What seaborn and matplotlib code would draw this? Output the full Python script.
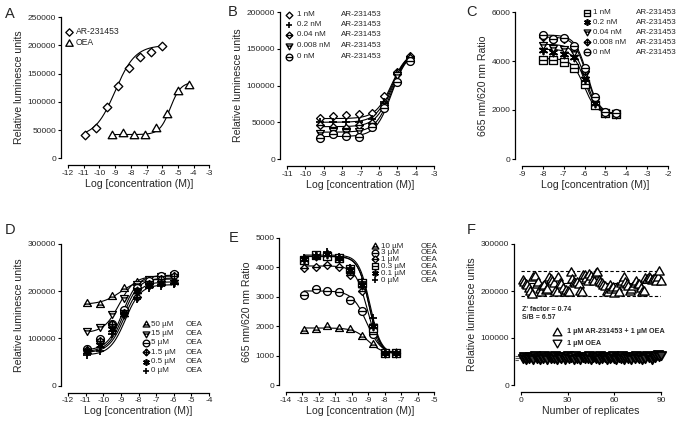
import numpy as np
import matplotlib
matplotlib.use("Agg")
import matplotlib.pyplot as plt
from matplotlib.path import Path
import seaborn as sns

# ---------------- data ----------------
# Panel A
a_x_ar = [-10.9, -10.2, -9.5, -8.8, -8.1, -7.4, -6.7, -6.0]
a_y_ar = [42000, 54000, 90000, 128000, 160000, 179000, 188000, 198000]
a_x_oea = [-9.2, -8.5, -7.8, -7.1, -6.4, -5.7, -5.0, -4.3]
a_y_oea = [41000, 45000, 41000, 41000, 54000, 79000, 119000, 129000]
a_labels = ["AR-231453", "OEA"]
a_fit_bottom = [38000, 42000]
a_fit_top = [200000, 135000]
a_fit_ec50 = [-9.0, -5.5]
a_fit_hill = [0.68, 1.3]

# Panel B
b_x = [-9.2, -8.5, -7.8, -7.1, -6.4, -5.7, -5.0, -4.3]
b_labels = ["1 nM", "0.2 nM", "0.04 nM", "0.008 nM", "0 nM"]
b_y_1 = [55500, 58500, 60000, 61000, 63000, 86000, 119000, 140000]
b_y_02 = [50000, 51000, 51000, 51000, 54000, 78000, 117000, 139000]
b_y_004 = [46500, 43000, 42000, 46000, 49000, 73000, 116000, 137000]
b_y_0008 = [36000, 37500, 37000, 38000, 45000, 72000, 114000, 135000]
b_y_0 = [28500, 34000, 31500, 30500, 44000, 69000, 105000, 133000]
b_fit_bottom = [55000, 50000, 44000, 36500, 30500]
b_fit_top = [148000, 148000, 148000, 148000, 148000]
b_fit_ec50 = [-5.3, -5.3, -5.3, -5.3, -5.3]
b_fit_hill = [1.0, 1.0, 1.0, 1.0, 1.0]

# Panel C
c_x = [-8.0, -7.5, -7.0, -6.5, -6.0, -5.5, -5.0, -4.5]
c_labels = ["1 nM", "0.2 nM", "0.04 nM", "0.008 nM", "0 nM"]
c_y_1 = [4060, 4060, 3950, 3700, 3050, 2210, 1870, 1830]
c_y_02 = [4450, 4350, 4300, 4150, 3250, 2300, 1880, 1850]
c_y_004 = [4650, 4550, 4500, 4350, 3450, 2400, 1890, 1860]
c_y_0008 = [4980, 4850, 4880, 4580, 3600, 2480, 1900, 1870]
c_y_0 = [5080, 4880, 4920, 4620, 3700, 2550, 1910, 1870]
c_fit_bottom = [1830, 1830, 1830, 1830, 1830]
c_fit_top = [4100, 4480, 4680, 4980, 5060]
c_fit_ec50 = [-6.02, -5.98, -5.95, -5.9, -5.88]
c_fit_hill = [-1.5, -1.5, -1.5, -1.5, -1.5]

# Panel D
d_x = [-10.9, -10.2, -9.5, -8.8, -8.1, -7.4, -6.7, -6.0]
d_labels = ["50 \u00b5M", "15 \u00b5M", "5 \u00b5M", "1.5 \u00b5M", "0.5 \u00b5M", "0 \u00b5M"]
d_y_50 = [175000, 173000, 190000, 206000, 220000, 222000, 221000, 224000]
d_y_15 = [115000, 124000, 151000, 185000, 215000, 225000, 232000, 234000]
d_y_5 = [78000, 99000, 131000, 161000, 207000, 222000, 233000, 236000]
d_y_1_5 = [76000, 94000, 131000, 154000, 188000, 215000, 225000, 232000]
d_y_0_5 = [74000, 87000, 119000, 152000, 200000, 213000, 218000, 220000]
d_y_0 = [64000, 74000, 109000, 151000, 183000, 206000, 211000, 215000]
d_fit_bottom = [172000, 112000, 75000, 72000, 70000, 65000]
d_fit_top = [226000, 232000, 234000, 228000, 220000, 214000]
d_fit_ec50 = [-9.0, -9.1, -8.9, -8.85, -8.8, -8.75]
d_fit_hill = [0.8, 1.0, 1.0, 1.0, 1.0, 1.0]

# Panel E
e_x = [-12.9, -12.2, -11.5, -10.8, -10.1, -9.4, -8.7, -8.0, -7.3]
e_labels = ["10 \u00b5M", "3 \u00b5M", "1 \u00b5M", "0.3 \u00b5M", "0.1 \u00b5M", "0 \u00b5M"]
e_y_10 = [1875, 1900, 1990, 1955, 1910, 1680, 1400, 1100, 1080]
e_y_3 = [3045, 3260, 3205, 3170, 2900, 2520, 1730, 1100, 1080]
e_y_1 = [3980, 4030, 4090, 4030, 3730, 3205, 1990, 1100, 1080]
e_y_0_3 = [4260, 4430, 4400, 4320, 3940, 3470, 1930, 1100, 1080]
e_y_0_1 = [4285, 4375, 4465, 4320, 3900, 3410, 1990, 1100, 1080]
e_y_0 = [4320, 4400, 4510, 4340, 3980, 3520, 2270, 1100, 1080]
e_fit_bottom = [1060, 1060, 1060, 1060, 1060, 1060]
e_fit_top = [1940, 3200, 4050, 4370, 4380, 4420]
e_fit_ec50 = [-9.0, -9.1, -9.05, -8.95, -8.95, -8.9]
e_fit_hill = [-1.0, -1.0, -1.2, -1.3, -1.3, -1.3]

# Panel F
f_rep = list(range(1, 91))
f_y_high = [224, 219, 214, 212, 207, 201, 194, 229, 232, 214,
            219, 205, 198, 210, 213, 203, 205, 229, 226, 222,
            217, 200, 198, 229, 218, 215, 206, 198, 203, 199,
            198, 241, 226, 219, 216, 219, 215, 199, 198, 234,
            233, 228, 222, 236, 231, 225, 222, 239, 240, 224,
            219, 218, 212, 211, 200, 198, 212, 205, 208, 195,
            205, 209, 198, 217, 222, 229, 220, 215, 210, 201,
            205, 210, 218, 222, 214, 215, 206, 198, 200, 227,
            225, 229, 228, 224, 226, 228, 222, 229, 243, 221]
f_y_low = [58, 61, 55, 60, 57, 62, 59, 56, 63, 58,
           60, 55, 61, 57, 64, 59, 56, 62, 58, 60,
           57, 63, 55, 61, 59, 58, 62, 56, 60, 64,
           57, 59, 61, 55, 63, 58, 60, 56, 62, 59,
           57, 61, 58, 64, 55, 60, 62, 57, 59, 56,
           63, 58, 61, 60, 55, 62, 57, 59, 64, 58,
           56, 61, 60, 57, 63, 55, 59, 62, 58, 60,
           56, 61, 57, 63, 59, 58, 62, 55, 60, 57,
           64, 59, 61, 56, 62, 60, 63, 65, 61, 64]
f_high_mean, f_high_lo, f_high_hi = 216600, 190000, 242000
f_low_mean, f_low_lo, f_low_hi = 58500, 54000, 62500
f_labels = ["1 \u00b5M AR-231453 + 1 \u00b5M OEA", "1 \u00b5M OEA"]
f_stats = ["Z' factor = 0.74", "S/B = 6.57"]

# ticks
a_xticks = list(range(-12, -2)); a_yticks = [0, 50000, 100000, 150000, 200000, 250000]
b_xticks = list(range(-11, -2)); b_yticks = [0, 50000, 100000, 150000, 200000]
c_xticks = list(range(-9, -1)); c_yticks = [0, 2000, 4000, 6000]
d_xticks = list(range(-12, -3)); d_yticks = [0, 100000, 200000, 300000]
e_xticks = list(range(-14, -4)); e_yticks = [0, 1000, 2000, 3000, 4000, 5000]
f_xticks = [0, 30, 60, 90]; f_yticks = [0, 100000, 200000, 300000]

# ---------------- style ----------------
sns.set_theme(style="ticks")
plt.rcParams['font.family'] = ['Liberation Sans', 'DejaVu Sans']
plt.rcParams['axes.unicode_minus'] = False

W, H = 683, 422
fig = plt.figure(figsize=(W / 100, H / 100), dpi=100)


def mk(poly, lines=()):
    verts, codes = [], []
    verts += list(poly) + [poly[0]]
    codes += [Path.MOVETO] + [Path.LINETO] * (len(poly) - 1) + [Path.CLOSEPOLY]
    for p, q in lines:
        verts += [p, q]
        codes += [Path.MOVETO, Path.LINETO]
    return Path(verts, codes)


_t = np.linspace(0, 2 * np.pi, 33)[:-1]
CIRC = [(np.cos(a), np.sin(a)) for a in _t]
HL = [((-1, 0), (1, 0))]
M_CIRC_L = mk(CIRC, HL)
M_DIAM = mk([(0, 1), (1, 0), (0, -1), (-1, 0)])
M_DIAM_L = mk([(0, 1), (1, 0), (0, -1), (-1, 0)], HL)
M_DIAM_X = mk([(0, 1), (1, 0), (0, -1), (-1, 0)], HL + [((0, -1), (0, 1))])
M_SQ_L = mk([(-1, -1), (1, -1), (1, 1), (-1, 1)], HL)
M_TRI = mk([(0, 1), (1, -0.75), (-1, -0.75)])
M_TRI_L = mk([(0, 1), (1, -0.75), (-1, -0.75)], [((-0.66, -0.15), (0.66, -0.15))])
M_TRID = mk([(0, -1), (1, 0.75), (-1, 0.75)])
M_TRID_L = mk([(0, -1), (1, 0.75), (-1, 0.75)], [((-0.66, 0.15), (0.66, 0.15))])
M_PLUS = ('+', False)
M_STAR = ((6, 2, 0), False)


def spec(m):
    if isinstance(m, tuple):
        return m[0], False
    return m, True


def px_rect(l, t, r, b):
    return [l / W, 1 - b / H, (r - l) / W, (b - t) / H]


def setup(ax, xlim, ylim, xticks, yticks, xlabel, ylabel):
    ax.set_xlim(*xlim)
    ax.set_ylim(*ylim)
    ax.set_xticks(xticks)
    ax.set_yticks(yticks)
    ax.set_xticklabels([str(v) for v in xticks])
    ax.set_yticklabels([str(v) for v in yticks])
    ax.tick_params(axis='both', labelsize=6, length=2.2, width=0.8, pad=1.2, color='black')
    for lab in ax.get_xticklabels() + ax.get_yticklabels():
        lab.set_fontweight('bold')
    ax.set_xlabel(xlabel, fontsize=7.6, labelpad=1.5)
    ax.set_ylabel(ylabel, fontsize=7.6, labelpad=2.5)
    sns.despine(ax=ax, offset=5)
    for s in ('left', 'bottom'):
        ax.spines[s].set_linewidth(0.9)
        ax.spines[s].set_color('black')
    ax.set_facecolor('none')


def points(ax, x, y, m, s=30, lw=0.95, face='white'):
    marker, filled = spec(m)
    if filled:
        sns.scatterplot(x=x, y=y, ax=ax, marker=marker, s=s, color='black',
                        facecolor=face, edgecolor='black', linewidth=lw,
                        zorder=3, clip_on=False, legend=False)
    else:
        sns.scatterplot(x=x, y=y, ax=ax, marker=marker, s=s, color='black',
                        linewidth=1.3, zorder=3, clip_on=False, legend=False)


def fitline(ax, x, bottom, top, ec, h):
    xs = np.linspace(min(x), max(x), 200)
    ys = bottom + (top - bottom) / (1 + 10 ** ((ec - xs) * h))
    sns.lineplot(x=xs, y=ys, ax=ax, color='black', linewidth=0.8, zorder=2)


def legend(ax, xm, xt, xt2, ys, markers, labels, label2=None, fs=5.8, ms=4.8, weight='normal'):
    for y, m, lab in zip(ys, markers, labels):
        yy = 1 - y / H
        marker, filled = spec(m)
        if filled:
            ax.plot([xm / W], [yy], marker=marker, ms=ms, mfc='white', mec='black', mew=0.95,
                    linestyle='none', transform=fig.transFigure, clip_on=False)
        else:
            ax.plot([xm / W], [yy], marker=marker, ms=ms, color='black', mew=1.2,
                    linestyle='none', transform=fig.transFigure, clip_on=False)
        fig.text(xt / W, yy, lab, fontsize=fs, va='center', ha='left', weight=weight)
        if label2:
            fig.text(xt2 / W, yy, label2, fontsize=fs, va='center', ha='left', weight=weight)


LOGX = "Log [concentration (M)]"
RLU = "Relative luminesce units"
RAT = "665 nm/620 nm Ratio"

# ---------------- Panel A ----------------
ax = fig.add_axes(px_rect(68, 17, 209.5, 158.3))
setup(ax, (-12, -3), (0, 250000), a_xticks, a_yticks, LOGX, RLU)
a_series = [(a_x_ar, a_y_ar, M_DIAM), (a_x_oea, a_y_oea, M_TRI)]
for i, (x, y, m) in enumerate(a_series):
    fitline(ax, x, a_fit_bottom[i], a_fit_top[i], a_fit_ec50[i], a_fit_hill[i])
    points(ax, x, y, m, s=38)
legend(ax, 69, 76, None, [31.7, 42.7], [M_DIAM, M_TRI], a_labels, fs=6.2, ms=5.3)

# ---------------- Panel B ----------------
ax = fig.add_axes(px_rect(287, 12, 434, 159))
setup(ax, (-11, -3), (0, 200000), b_xticks, b_yticks, LOGX, RLU)
b_markers = [M_DIAM, M_PLUS, M_DIAM_L, M_TRID_L, M_CIRC_L]
b_ys = [b_y_1, b_y_02, b_y_004, b_y_0008, b_y_0]
for i, (y, m) in enumerate(zip(b_ys, b_markers)):
    fitline(ax, b_x, b_fit_bottom[i], b_fit_top[i], b_fit_ec50[i], b_fit_hill[i])
    points(ax, b_x, y, m, s=32)
legend(ax, 288.5, 296.7, 340.7, [15, 25, 35, 45.7, 56.7], b_markers, b_labels, "AR-231453")

# ---------------- Panel C ----------------
ax = fig.add_axes(px_rect(522, 12, 668, 159))
setup(ax, (-9, -2), (0, 6000), c_xticks, c_yticks, LOGX, RAT)
c_markers = [M_SQ_L, M_STAR, M_TRID_L, M_DIAM_X, M_CIRC_L]
c_ys = [c_y_1, c_y_02, c_y_004, c_y_0008, c_y_0]
for i, (y, m) in enumerate(zip(c_ys, c_markers)):
    fitline(ax, c_x, c_fit_bottom[i], c_fit_top[i], c_fit_ec50[i], c_fit_hill[i])
    points(ax, c_x, y, m, s=32)
legend(ax, 587, 593.3, 635.7, [12.7, 22.3, 32.3, 42.3, 52.3], c_markers, c_labels, "AR-231453")

# ---------------- Panel D ----------------
ax = fig.add_axes(px_rect(68, 244, 209, 385.7))
setup(ax, (-12, -4), (0, 300000), d_xticks, d_yticks, LOGX, RLU)
d_markers = [M_TRI_L, M_TRID_L, M_CIRC_L, M_DIAM_X, M_STAR, M_PLUS]
d_ys = [d_y_50, d_y_15, d_y_5, d_y_1_5, d_y_0_5, d_y_0]
for i, (y, m) in enumerate(zip(d_ys, d_markers)):
    fitline(ax, d_x, d_fit_bottom[i], d_fit_top[i], d_fit_ec50[i], d_fit_hill[i])
    points(ax, d_x, y, m, s=32)
legend(ax, 146, 151, 186, [324.3, 333.7, 342.7, 352.3, 361.7, 371], d_markers, d_labels, "OEA")

# ---------------- Panel E ----------------
ax = fig.add_axes(px_rect(286, 238, 434, 385))
setup(ax, (-14, -5), (0, 5000), e_xticks, e_yticks, LOGX, RAT)
e_markers = [M_TRI_L, M_CIRC_L, M_DIAM_L, M_SQ_L, M_STAR, M_PLUS]
e_ys = [e_y_10, e_y_3, e_y_1, e_y_0_3, e_y_0_1, e_y_0]
for i, (y, m) in enumerate(zip(e_ys, e_markers)):
    fitline(ax, e_x, e_fit_bottom[i], e_fit_top[i], e_fit_ec50[i], e_fit_hill[i])
    points(ax, e_x, y, m, s=32)
legend(ax, 375.5, 381, 420.7, [246, 252.7, 259.3, 266, 273.3, 280], e_markers, e_labels, "OEA")

# ---------------- Panel F ----------------
ax = fig.add_axes(px_rect(521, 244, 661, 385))
setup(ax, (0, 90), (0, 300000), f_xticks, f_yticks, "Number of replicates", RLU)
ax.hlines([f_high_mean], 0, 90, colors='black', linewidth=0.8, zorder=2)
ax.hlines([f_high_lo, f_high_hi], 0, 90, colors='black', linewidth=0.8, linestyles=(0, (3, 2)), zorder=2)
ax.hlines([f_low_mean], -4, 90, colors='#555555', linewidth=0.8, zorder=2, clip_on=False)
ax.hlines([f_low_lo, f_low_hi], -4, 90, colors='#555555', linewidth=0.8, linestyles=(0, (3, 2)), zorder=2, clip_on=False)
points(ax, f_rep, [v * 1000 for v in f_y_high], M_TRI, s=46, lw=1.0)
points(ax, f_rep, [v * 1000 for v in f_y_low], M_TRID, s=46, lw=1.3, face='#3a3a3a')
fig.text(521.7 / W, 1 - 309.3 / H, f_stats[0], fontsize=5, weight='bold', va='center')
fig.text(521.7 / W, 1 - 317.3 / H, f_stats[1], fontsize=5, weight='bold', va='center')
legend(ax, 557.3, 567.3, None, [331.7, 343.3], [M_TRI, M_TRID], f_labels, fs=5.2, ms=6.3, weight='bold')

# ---------------- panel letters ----------------
for lab, x, yb in [("A", 5, 18.3), ("B", 227.5, 15.5), ("C", 466.5, 16), ("D", 5, 234.3),
                   ("E", 229, 242.5), ("F", 467, 234.3)]:
    fig.text(x / W, 1 - yb / H, lab, fontsize=10.5, va='baseline', ha='left')

fig.savefig("out.png", dpi=100)
